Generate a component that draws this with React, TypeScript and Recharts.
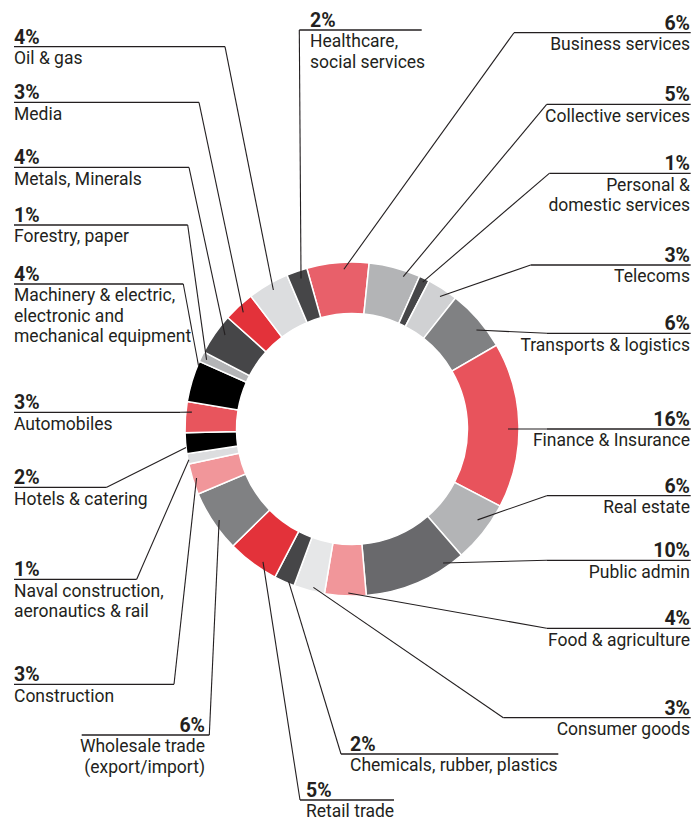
import React from 'react';
import { PieChart, Pie, Cell } from 'recharts';

// ---- data (clockwise, starting with Business services) ----
const sectors = [
  'Business services', 'Collective services', 'Personal & domestic services', 'Telecoms',
  'Transports & logistics', 'Finance & Insurance', 'Real estate', 'Public admin',
  'Food & agriculture', 'Consumer goods', 'Chemicals, rubber, plastics', 'Retail trade',
  'Wholesale trade (export/import)', 'Construction', 'Naval construction, aeronautics & rail',
  'Hotels & catering', 'Automobiles', 'Machinery & electric, electronic and mechanical equipment',
  'Forestry, paper', 'Metals, Minerals', 'Media', 'Oil & gas', 'Healthcare, social services',
];
const shares = [6, 5, 1, 3, 6, 16, 6, 10, 4, 3, 2, 5, 6, 3, 1, 2, 3, 4, 1, 4, 3, 4, 2];
const nameLines = [
  ['Business services'], ['Collective services'], ['Personal &', 'domestic services'], ['Telecoms'],
  ['Transports & logistics'], ['Finance & Insurance'], ['Real estate'], ['Public admin'],
  ['Food & agriculture'], ['Consumer goods'], ['Chemicals, rubber, plastics'], ['Retail trade'],
  ['Wholesale trade', '(export/import)'], ['Construction'], ['Naval construction,', 'aeronautics & rail'],
  ['Hotels & catering'], ['Automobiles'], ['Machinery & electric,', 'electronic and', 'mechanical equipment'],
  ['Forestry, paper'], ['Metals, Minerals'], ['Media'], ['Oil & gas'], ['Healthcare,', 'social services'],
];

// ---- styles ----
const colors = [
  '#e8606a', '#b3b4b6', '#464648', '#d0d1d3', '#808183', '#e8535c', '#b3b4b6', '#69696c',
  '#f1969a', '#e6e7e8', '#464648', '#e3323a', '#808183', '#f1969a', '#dcdddf', '#000000',
  '#e8555d', '#000000', '#b3b4b6', '#464648', '#e3323a', '#dcdddf', '#464648',
];

// ---- label layout (positions of the annotation text / leader lines) ----
type L = { y: number; x1: number; x2: number; ex: number; tx: number; anchor: 'start' | 'end'; d: number; r: number };
const R = (y: number, ex: number, d: number, r: number): L => ({ y, x1: ex, x2: 690.7, ex, tx: 690, anchor: 'end', d, r });
const Lf = (y: number, ex: number, d: number, r: number): L => ({ y, x1: 14, x2: ex, ex, tx: 14, anchor: 'start', d, r });
const layout: L[] = [
  R(32.7, 514, 2.0, 160),
  R(104.3, 546.7, 3.7, 160.7),
  R(173.3, 549.3, 0, 163),
  R(265, 530.7, 0.7, 159),
  R(333.3, 547, 2.4, 159),
  R(429, 547, 1.3, 156),
  R(495.7, 546.7, -2.4, 155),
  R(560.3, 547, -11.3, 162),
  R(628.3, 546.7, -1, 164),
  R(717.7, 503.3, -1.2, 163),
  { y: 754, x1: 341, x2: 558.3, ex: 341, tx: 350, anchor: 'start', d: -1.3, r: 165 },
  { y: 800, x1: 300, x2: 394, ex: 300, tx: 306, anchor: 'start', d: -2.7, r: 160 },
  { y: 735, x1: 81.7, x2: 209.3, ex: 209.3, tx: 205, anchor: 'end', d: -0.7, r: 161 },
  Lf(684.3, 174, 0, 163),
  Lf(579.3, 136.7, -0.4, 166),
  Lf(487.3, 106.7, -1.5, 167),
  Lf(412.3, 180, 1.9, 161),
  Lf(284, 183.3, 5.7, 166),
  Lf(225, 187.7, -0.3, 161),
  Lf(167.3, 189, 1.8, 158),
  Lf(102.3, 199, -0.3, 159.5),
  Lf(46.7, 225, 0.6, 159.7),
  { y: 30, x1: 299.3, x2: 421.7, ex: 299.3, tx: 310, anchor: 'start', d: 0.6, r: 159 },
];

const data = sectors.map((name, i) => ({ name, value: shares[i] }));

const CX = 352;
const CY = 429;
const RAD = Math.PI / 180;
const FONT = 'Roboto, "Noto Sans", sans-serif';
const INK = '#231f20';

const renderLabel = (props: any) => {
  const { midAngle, index } = props;
  const cx = typeof props.cx === 'number' ? props.cx : CX;
  const cy = typeof props.cy === 'number' ? props.cy : CY;
  const L = layout[index];
  const ang = midAngle - L.d;
  const px = cx + L.r * Math.cos(-ang * RAD);
  const py = cy + L.r * Math.sin(-ang * RAD);
  return (
    <g key={`lab-${index}`}>
      <line x1={px} y1={py} x2={L.ex} y2={L.y} stroke={INK} strokeWidth={1.1} />
      <line x1={L.x1} y1={L.y} x2={L.x2} y2={L.y} stroke={INK} strokeWidth={1.3} />
      <text x={L.tx} y={L.y - 3} textAnchor={L.anchor} fontFamily={FONT} fontWeight={700} fontSize={19.5} fill={INK}>
        {`${shares[index]}%`}
      </text>
      {nameLines[index].map((t, i) => (
        <text key={i} x={L.tx} y={L.y + 17.3 + i * 20.5} textAnchor={L.anchor} fontFamily={FONT} fontSize={17.5} fill={INK}>
          {t}
        </text>
      ))}
    </g>
  );
};

export default function App() {
  return (
    <div style={{ position: 'absolute', left: 0, top: 0, width: 695, height: 817, background: '#fff' }}>
      <PieChart width={695} height={817} margin={{ top: 0, right: 0, bottom: 0, left: 0 }}>
        <Pie
          data={data}
          dataKey="value"
          nameKey="name"
          cx={CX}
          cy={CY}
          innerRadius={115.5}
          outerRadius={167}
          startAngle={105.7}
          endAngle={-254.3}
          stroke="#ffffff"
          strokeWidth={1.5}
          isAnimationActive={false}
          labelLine={false}
          label={renderLabel}
        >
          {data.map((d, i) => (
            <Cell key={d.name} fill={colors[i]} />
          ))}
        </Pie>
      </PieChart>
    </div>
  );
}
